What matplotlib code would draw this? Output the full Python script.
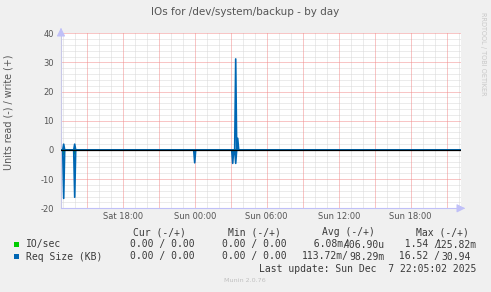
import numpy as np
import matplotlib
matplotlib.use("Agg")
import matplotlib.pyplot as plt

# ---------------- data ----------------
title = "IOs for /dev/system/backup - by day"
ylabel = "Units read (-) / write (+)"
tick_hours = [18, 24, 30, 36, 42]
tick_labels = ["Sat 18:00", "Sun 00:00", "Sun 06:00", "Sun 12:00", "Sun 18:00"]
y_ticks = [-20, -10, 0, 10, 20, 30, 40]

# spike sample times (hours since Sat 00:00) and values
spike_hours = [13.05, 13.97, 24.0, 27.19, 27.38, 27.55]
req_read = [16.6, 16.2, 4.4, 4.6, 4.6, 0.0]
req_write = [2.0, 2.0, 0.0, 0.0, 31.2, 4.0]
io_read = [1.5, 1.4, 0.3, 0.5, 0.4, 0.0]
io_write = [0.12, 0.1, 0.0, 0.0, 0.12, 0.05]

legend_names = ["IO/sec", "Req Size (KB)"]
legend_colors = ["#00CC00", "#0066B3"]
cur_vals = ["0.00 / 0.00", "0.00 / 0.00"]
min_vals = ["0.00 / 0.00", "0.00 / 0.00"]
avg_left = ["  6.08m/", "113.72m/"]
avg_right = ["406.90u", "98.29m"]
max_left = ["  1.54 /", " 16.52 /"]
max_right = ["125.82m", "30.94"]
last_update = "Last update: Sun Dec  7 22:05:02 2025"
munin_ver = "Munin 2.0.76"

# ---------------- layout ----------------
W, H = 491, 292
fig = plt.figure(figsize=(W / 100, H / 100), dpi=100)
fig.patch.set_facecolor("#F0F0F0")

px_l, px_r, px_t, px_b = 61, 460.7, 33.3, 208.3
ax = fig.add_axes([px_l / W, 1 - px_b / H, (px_r - px_l) / W, (px_b - px_t) / H])
ax.set_facecolor("white")

x0 = 18 - (122.7 - px_l) / 12.0
x1 = 18 + (px_r - 122.7) / 12.0
ax.set_xlim(x0, x1)
ax.set_ylim(-20, 40)

# grid
dots = (0, (1, 1))
gkw = dict(lw=0.72, ls=dots, snap=True)
for h in np.arange(13, 47, 1):
    if h % 3:
        ax.axvline(h, color="#d8d8d8", zorder=1, **gkw)
for y in np.arange(-20, 41, 2):
    if y % 10:
        ax.axhline(y, color="#d8d8d8", zorder=1, **gkw)
for h in np.arange(15, 47, 3):
    ax.axvline(h, color="#f28c8c", zorder=2, **gkw)
for y in y_ticks:
    ax.axhline(y, color="#f28c8c", zorder=2, **gkw)

# build 5-minute series
t = np.arange(12 * 12, 47 * 12 + 1) / 12.0
def series(vals):
    s = np.zeros_like(t)
    for h, v in zip(spike_hours, vals):
        s[int(round(h * 12)) - 12 * 12] = v
    return s

ax.plot(t, -series(io_read), color=legend_colors[0], lw=1.0, zorder=4)
ax.plot(t, series(io_write), color=legend_colors[0], lw=1.0, zorder=4)
ax.plot(t, -series(req_read), color=legend_colors[1], lw=1.2, zorder=5)
ax.plot(t, series(req_write), color=legend_colors[1], lw=1.2, zorder=5)

ax.axhline(0, color="black", lw=0.9, zorder=6)

for s in ["top", "right"]:
    ax.spines[s].set_visible(False)
ax.spines["left"].set_color("#c8c8e8")
ax.spines["bottom"].set_color("#c0c0f8")
ax.spines["left"].set_linewidth(0.8)
ax.spines["bottom"].set_linewidth(0.8)

ax.set_xticks(tick_hours)
ax.set_xticklabels(tick_labels)
ax.set_yticks(y_ticks)
ax.set_yticklabels([str(v) for v in y_ticks])
ax.tick_params(axis="both", length=0, labelsize=6, labelcolor="#555555")
ax.tick_params(axis="x", pad=2.5)
ax.tick_params(axis="y", pad=5.2)

# arrows
ax.annotate("", xy=(px_l / W, 1 - 25 / H), xytext=(px_l / W, 1 - 33 / H),
            xycoords="figure fraction",
            arrowprops=dict(arrowstyle="-|>,head_length=0.5,head_width=0.25",
                            color="#c0c0f8", lw=0.8))
ax.annotate("", xy=(468 / W, 1 - px_b / H), xytext=(460 / W, 1 - px_b / H),
            xycoords="figure fraction",
            arrowprops=dict(arrowstyle="-|>,head_length=0.5,head_width=0.25",
                            color="#c0c0f8", lw=0.8))

# texts
def ftxt(x, y, s, **kw):
    fig.text(x / W, 1 - y / H, s, **kw)

ftxt(245.5, 12, title, ha="center", va="center", fontsize=7.5, color="#555555")
ftxt(8.5, 112, ylabel, ha="center", va="center", rotation=90, fontsize=6.9,
     color="#555555")
ftxt(483.5, 54, "RRDTOOL / TOBI OETIKER", ha="center", va="center",
     rotation=270, fontsize=4.7, color="#c8c8c8")

mono = dict(family="DejaVu Sans Mono", fontsize=7.05, color="#3a3a3a", va="center")
ftxt(133.3, 232.4, "Cur (-/+)", **mono)
ftxt(227.7, 232.4, "Min (-/+)", **mono)
ftxt(321.7, 232.4, "Avg (-/+)", **mono)
ftxt(416.0, 232.4, "Max (-/+)", **mono)

rows_y = [244.5, 256.5]
for i in range(2):
    y = rows_y[i]
    fig.patches.append(plt.Rectangle((14 / W, 1 - (y + 2.6) / H), 5.3 / W, 5.3 / H,
                                     transform=fig.transFigure,
                                     color=legend_colors[i], lw=0))
    ftxt(26, y, legend_names[i], **mono)
    ftxt(130, y, cur_vals[i], **mono)
    ftxt(222.3, y, min_vals[i], **mono)
    ftxt(301.7, y, avg_left[i], **mono)
    ftxt(384.3, y, avg_right[i], ha="right", **mono)
    ftxt(393.1, y, max_left[i], **mono)
    ftxt(476.7 if i == 0 else 470.8, y, max_right[i], ha="right", **mono)

ftxt(476.5, 268.5, last_update, ha="right", **mono)
ftxt(245, 281, munin_ver, ha="center", va="center", fontsize=4.6, color="#c0c0c0")

fig.savefig("out.png", dpi=100, facecolor=fig.get_facecolor())
